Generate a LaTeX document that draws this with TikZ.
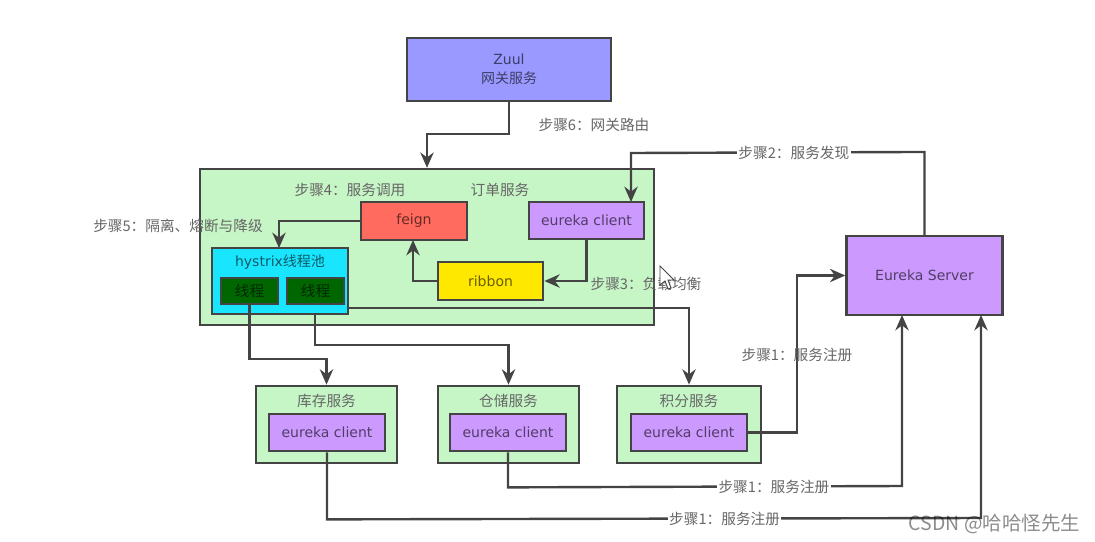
\documentclass[tikz,border=0pt]{standalone}
\usepackage{fontspec}
\setmainfont{DejaVu Sans}
\newfontfamily\cjk{Noto Sans CJK SC}
\usepackage{tikz}
\usetikzlibrary{arrows.meta}

\definecolor{linegray}{HTML}{444444}
\definecolor{textgray}{HTML}{666666}
\definecolor{zuulblue}{HTML}{9999FF}
\definecolor{svcgreen}{HTML}{C6F5C6}
\definecolor{feignred}{HTML}{FF6B5E}
\definecolor{clientpurple}{HTML}{CC99FF}
\definecolor{ribbonyellow}{HTML}{FFE800}
\definecolor{hystrixcyan}{HTML}{19E5FF}
\definecolor{threadgreen}{HTML}{006600}

\tikzset{
    box/.style={draw=linegray, line width=1.8pt, inner sep=0pt, align=center,
        font=\fontsize{10.5}{14.5}\selectfont, text=black, text opacity=0.6},
    steptext/.style={font=\cjk\fontsize{11}{13}\selectfont, text=textgray, inner sep=1pt},
    steponline/.style={steptext, fill=white},
    conn/.style={draw=linegray, line width=1.8pt},
    arrow/.style={conn, -{Stealth[length=11.5pt, width=10pt]}}
}

\begin{document}
\begin{tikzpicture}[x=0.75pt, y=-0.75pt]
        \useasboundingbox (0,0) rectangle (1095,542);

        % Add the outer boxes
        \node[box, fill=zuulblue, minimum width=153pt, minimum height=47pt] (zuul) at (509,69.5)
            {Zuul\\{\cjk 网关服务}};
        \node[box, fill=svcgreen, minimum width=340.5pt, minimum height=117pt] (order) at (427,247) {};
        \node[box, fill=clientpurple, minimum width=117pt, minimum height=59pt] (server) at (924.5,275.5)
            {Eureka Server};

        % Inside the order service
        \node[box, fill=feignred, minimum width=79.5pt, minimum height=28.5pt] (feign) at (414,221) {feign};
        \node[box, fill=clientpurple, minimum width=86pt, minimum height=28pt] (client) at (586.5,220.5) {eureka client};
        \node[box, fill=ribbonyellow, minimum width=79pt, minimum height=28.5pt] (ribbon) at (490.5,281) {ribbon};
        \node[box, fill=hystrixcyan, minimum width=102pt, minimum height=49.5pt] (hystrix) at (280,281) {};
        \node[font=\fontsize{10.5}{13}\selectfont, text=black, text opacity=0.6, inner sep=0pt] (hystrixname) at (280,262)
            {hystrix{\cjk 线程池}};
        \node[box, fill=threadgreen, font=\cjk\fontsize{11}{13}\selectfont, minimum width=43pt, minimum height=19.5pt] (thread1) at (249.5,291) {线程};
        \node[box, fill=threadgreen, font=\cjk\fontsize{11}{13}\selectfont, minimum width=43pt, minimum height=19.5pt] (thread2) at (315.5,291) {线程};

        % Lower services
        \node[box, fill=svcgreen, minimum width=106pt, minimum height=58pt] (stock) at (326.5,424.5) {};
        \node[box, fill=svcgreen, minimum width=106pt, minimum height=58pt] (storage) at (508.5,424.5) {};
        \node[box, fill=svcgreen, minimum width=108pt, minimum height=58pt] (points) at (689,424.5) {};
        \node[steptext] (stockname) at (326.5,401) {库存服务};
        \node[steptext] (storagename) at (508.5,401) {仓储服务};
        \node[steptext] (pointsname) at (689,401) {积分服务};
        \node[box, fill=clientpurple, minimum width=87pt, minimum height=28pt] (client1) at (327,432.5) {eureka client};
        \node[box, fill=clientpurple, minimum width=87pt, minimum height=28pt] (client2) at (508,432.5) {eureka client};
        \node[box, fill=clientpurple, minimum width=87pt, minimum height=28pt] (client3) at (689,432.5) {eureka client};

        % Free ends that are off centre
        \coordinate (clientin) at (631,202);
        \coordinate (hystrixin) at (279,248);
        \coordinate (feignin) at (413,240);
        \coordinate (hystrixout) at (315,314);
        \coordinate (hystrixright) at (348,308);
        \coordinate (serverin1) at (902,315);
        \coordinate (serverin2) at (981,315);

        % Connect the boxes with arrows
        \draw[arrow] (zuul.south) -- ++(0,32) -| (order.north);
        \draw[arrow] (server.north) -- ++(0,-83)
            -- node[steponline, pos=0.445] (step2) {步骤2：服务发现} (631,153) -- (clientin);
        \draw[arrow] (client.south) |- (ribbon.east);
        \draw[arrow] (ribbon.west) -| (feignin);
        \draw[arrow] (feign.west) -| (hystrixin);
        \draw[arrow] (thread1.south) -- ++(0,54) -| (stock.north);
        \draw[arrow] (hystrixout) -- ++(0,31) -| (storage.north);
        \draw[arrow] (hystrixright) -| (points.north);
        \draw[arrow] (client3.east) -- ++(48.5,0) |- (server.west);
        \draw[arrow] (client2.south) -- ++(0,35)
            -- node[steponline, pos=0.675] (step1b) {步骤1：服务注册} (902,486) -- (serverin1);
        \draw[arrow] (client1.south) -- ++(0,67)
            -- node[steponline, pos=0.608] (step1c) {步骤1：服务注册} (981,518) -- (serverin2);

        % Step labels
        \node[steptext] (step6) at (594,125) {步骤6：网关路由};
        \node[steptext] (step4) at (350,190) {步骤4：服务调用};
        \node[steptext] (ordername) at (500,190) {订单服务};
        \node[steptext] (step5) at (178,226) {步骤5：隔离、熔断与降级};
        \node[steptext] (step3) at (646,284) {步骤3：负载均衡};
        \node[steptext] (step1a) at (797,355) {步骤1：服务注册};

        % Pointer and watermark
        \draw[fill=white, draw=linegray, line width=0.7pt] (660,266) -- (660,285) -- (665,281)
            -- (668,289) -- (671,288) -- (668,280) -- (674,280) -- cycle;
        \node[font=\cjk\fontsize{14.6}{16}\selectfont, text=black, text opacity=0.45, inner sep=0pt] (mark) at (994.5,524) {CSDN @哈哈怪先生};
    \end{tikzpicture}
\end{document}
